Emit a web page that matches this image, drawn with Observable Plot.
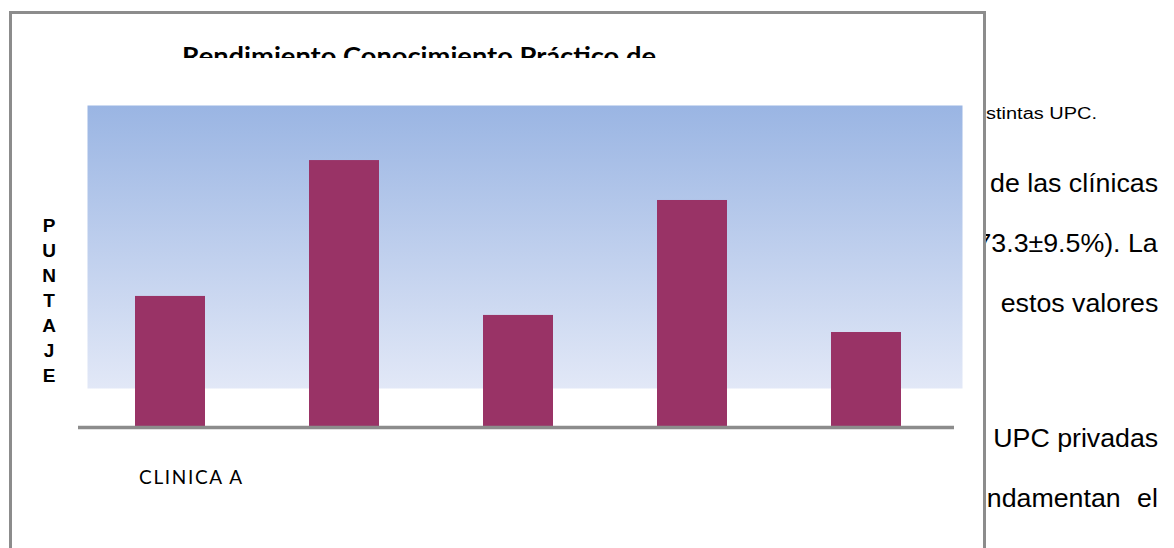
<!DOCTYPE html>
<html>
<head>
<meta charset="utf-8">
<script src="https://cdn.jsdelivr.net/npm/d3@7"></script>
<script src="https://cdn.jsdelivr.net/npm/@observablehq/plot@0.6"></script>
<style>
  html, body { margin: 0; padding: 0; background: #fff; }
  #page { position: relative; width: 1174px; height: 548px; overflow: hidden; background: #fff; }
  #box { position: absolute; left: 9px; top: 11px; width: 971px; height: 600px;
         border: 3px solid #8c8c8c; border-bottom: none; background: #fff; }
  #chart { position: absolute; left: 0; top: 0; }
  #titleclip { position: absolute; left: 0; top: 0; width: 985px; height: 58px; overflow: hidden; }
  #title { position: absolute; left: 182px; top: 41px; white-space: nowrap;
           font-family: Lato, "Open Sans", sans-serif; font-weight: bold; font-size: 24px;
           line-height: normal; transform-origin: left top; color: #000; }
  #ylab { position: absolute; left: 38px; top: 213px; width: 22px; text-align: center;
          font-family: "Liberation Sans", Arial, sans-serif; font-weight: bold; font-size: 19px;
          line-height: 25px; color: #000; }
  #doc { position: absolute; left: 986px; top: 0; width: 188px; height: 548px; overflow: hidden;
         font-family: "Liberation Sans", Arial, sans-serif; color: #000; }
  .ln { position: absolute; right: 16px; white-space: nowrap; font-size: 25px; line-height: 1;
        transform-origin: right bottom; }
  .sm { position: absolute; left: 0; white-space: nowrap; font-size: 16px; line-height: 1; transform-origin: left bottom; }
</style>
</head>
<body>
<div id="page">
  <div id="box"></div>
  <div id="doc"></div>
  <div id="chart"></div>
  <div id="titleclip"><div id="title"></div></div>
  <div id="ylab"></div>
</div>
<script>
// ---- data ----
const clinics = ["CLINICA A", "CLINICA B", "CLINICA C", "CLINICA D", "CLINICA E"];
const scores = [40.7, 82.9, 34.8, 70.5, 29.5];
const titleText = "Rendimiento Conocimiento Práctico de";
const yLabel = "PUNTAJE";
const docLines = ["de las clínicas", "(73.3±9.5%). La", "estos valores", "UPC privadas", "ndamentan el"];
const docTop = [171, 231, 291, 426, 486];
const docSmall = "stintas UPC.";

const data = clinics.map((c, i) => ({clinic: c, value: scores[i]}));

const plot = Plot.plot({
  width: 985,
  height: 548,
  marginTop: 105,
  marginBottom: 121,
  marginLeft: 78,
  marginRight: 28,
  style: {background: "transparent", overflow: "visible"},
  x: {domain: clinics, paddingInner: 0.6, paddingOuter: 0.322, axis: null},
  y: {domain: [0, 100], axis: null},
  marks: [
    Plot.frame({fill: "url(#bgGrad)", stroke: "none", insetLeft: 9, insetRight: -5, insetBottom: 39}),
    Plot.barY(data, {x: "clinic", y: "value", fill: "#993366"}),
    Plot.ruleY([0], {stroke: "#8c8c8c", strokeWidth: 3.5, insetRight: 3}),
    Plot.axisX({
      label: null,
      tickSize: 0, tickPadding: 0, dy: 43, dx: 20,
      tickFormat: d => d === clinics[0] ? d : "",
      fontSize: 19, fontFamily: "Lato, 'Open Sans', sans-serif", fill: "#000"
    })
  ]
});
document.getElementById("chart").appendChild(plot);

const svg = d3.select(plot);
const defs = svg.insert("defs", ":first-child");
const grad = defs.append("linearGradient").attr("id", "bgGrad")
  .attr("x1", 0).attr("y1", 0).attr("x2", 0).attr("y2", 1);
grad.append("stop").attr("offset", "0%").attr("stop-color", "#9ab5e3");
grad.append("stop").attr("offset", "100%").attr("stop-color", "#e2e8f7");

svg.selectAll("text").filter(function() { return this.textContent === clinics[0]; })
  .attr("textLength", 103).attr("lengthAdjust", "spacing");

// title
const t = document.getElementById("title");
t.textContent = titleText;
const tw = t.getBoundingClientRect().width;
t.style.transform = `scaleX(${474 / tw})`;

// y label
document.getElementById("ylab").innerHTML = yLabel.split("").join("<br>");

// document text behind the chart box
const doc = document.getElementById("doc");
let scale = 1;
docLines.forEach((s, i) => {
  const d = document.createElement("div");
  d.className = "ln";
  d.textContent = s;
  d.style.top = docTop[i] + "px";
  doc.appendChild(d);
  if (i === 0) { scale = 168 / d.getBoundingClientRect().width; }
  d.style.transform = `scaleX(${scale})`;
  if (i === docLines.length - 1) {
    const w = d.getBoundingClientRect().width;       // scaled width
    const extra = (1158 - 987) - w;                  // fill to the box edge (justified)
    if (extra > 0) d.style.wordSpacing = (extra / scale) + "px";
  }
});
const sm = document.createElement("div");
sm.className = "sm";
sm.textContent = docSmall;
sm.style.top = "106px";
doc.appendChild(sm);
const full = sm.getBoundingClientRect().width;
sm.style.transform = `scaleX(${(1097 - 986) / full})`;
</script>
</body>
</html>
